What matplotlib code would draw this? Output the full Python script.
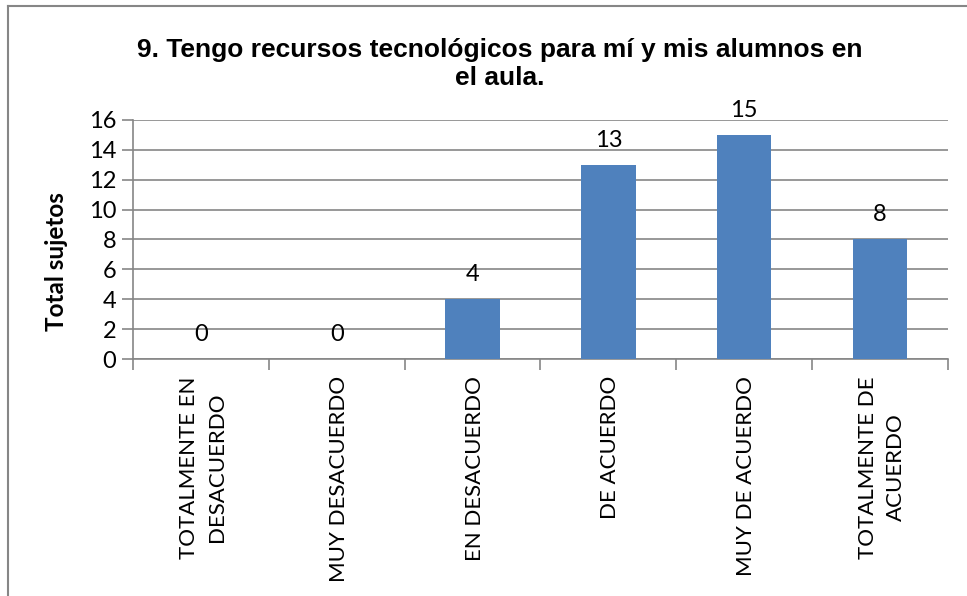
import matplotlib.pyplot as plt
from matplotlib.lines import Line2D
import numpy as np

categorias = ['TOTALMENTE EN\nDESACUERDO', 'MUY DESACUERDO', 'EN DESACUERDO',
              'DE ACUERDO', 'MUY DE ACUERDO', 'TOTALMENTE DE\nACUERDO']
valores = [0, 0, 4, 13, 15, 8]
yticks = [0, 2, 4, 6, 8, 10, 12, 14, 16]

plt.rcParams['font.family'] = ['Lato', 'DejaVu Sans']

fig = plt.figure(figsize=(9.67, 5.96), dpi=100)
ax = fig.add_axes([133/967, 1-359/596, (948-133)/967, (359-120)/596])

x = np.arange(len(categorias))
ax.bar(x, valores, width=0.4, color='#4F81BD', zorder=3)
for xi, v in zip(x, valores):
    ax.text(xi, v + 0.95, str(v), ha='center', va='bottom', fontsize=17)

ax.set_xlim(-0.5, len(categorias) - 0.5)
ax.set_ylim(0, 16)
ax.set_yticks(yticks)
ax.yaxis.grid(True, color='#868686', linewidth=1.2, zorder=0)
ax.tick_params(axis='y', labelsize=17, length=8, color='#868686', width=1.2, pad=4)

ax.set_xticks(np.arange(-0.5, len(categorias), 1))
ax.set_xticklabels([])
ax.tick_params(axis='x', length=8, color='#868686', width=1.2)
for xi, c in zip(x, categorias):
    ax.text(xi + 0.015, -1.15, c, rotation=90, ha='center', va='top', fontsize=16,
            multialignment='center', linespacing=1.5)

for s in ['top', 'right']:
    ax.spines[s].set_visible(False)
for s in ['left', 'bottom']:
    ax.spines[s].set_color('#868686')
    ax.spines[s].set_linewidth(1.2)

ax.set_ylabel('Total sujetos', fontsize=17.5, fontweight='bold')
ax.yaxis.set_label_coords(-0.08, 0.406)

fig.text(500/967, 1-64/596, '9. Tengo recursos tecnológicos para mí y mis alumnos en\nel aula.',
         ha='center', va='center', fontsize=19, fontweight='bold',
         family=['Liberation Sans', 'DejaVu Sans'], linespacing=1.25)

# marco del grafico
fig.add_artist(Line2D([8/967, 8/967], [0, 1-6/596], color='#868686', lw=1.5))
fig.add_artist(Line2D([8/967, 1], [1-6/596, 1-6/596], color='#868686', lw=1.5))

plt.savefig('out.png', dpi=100)
